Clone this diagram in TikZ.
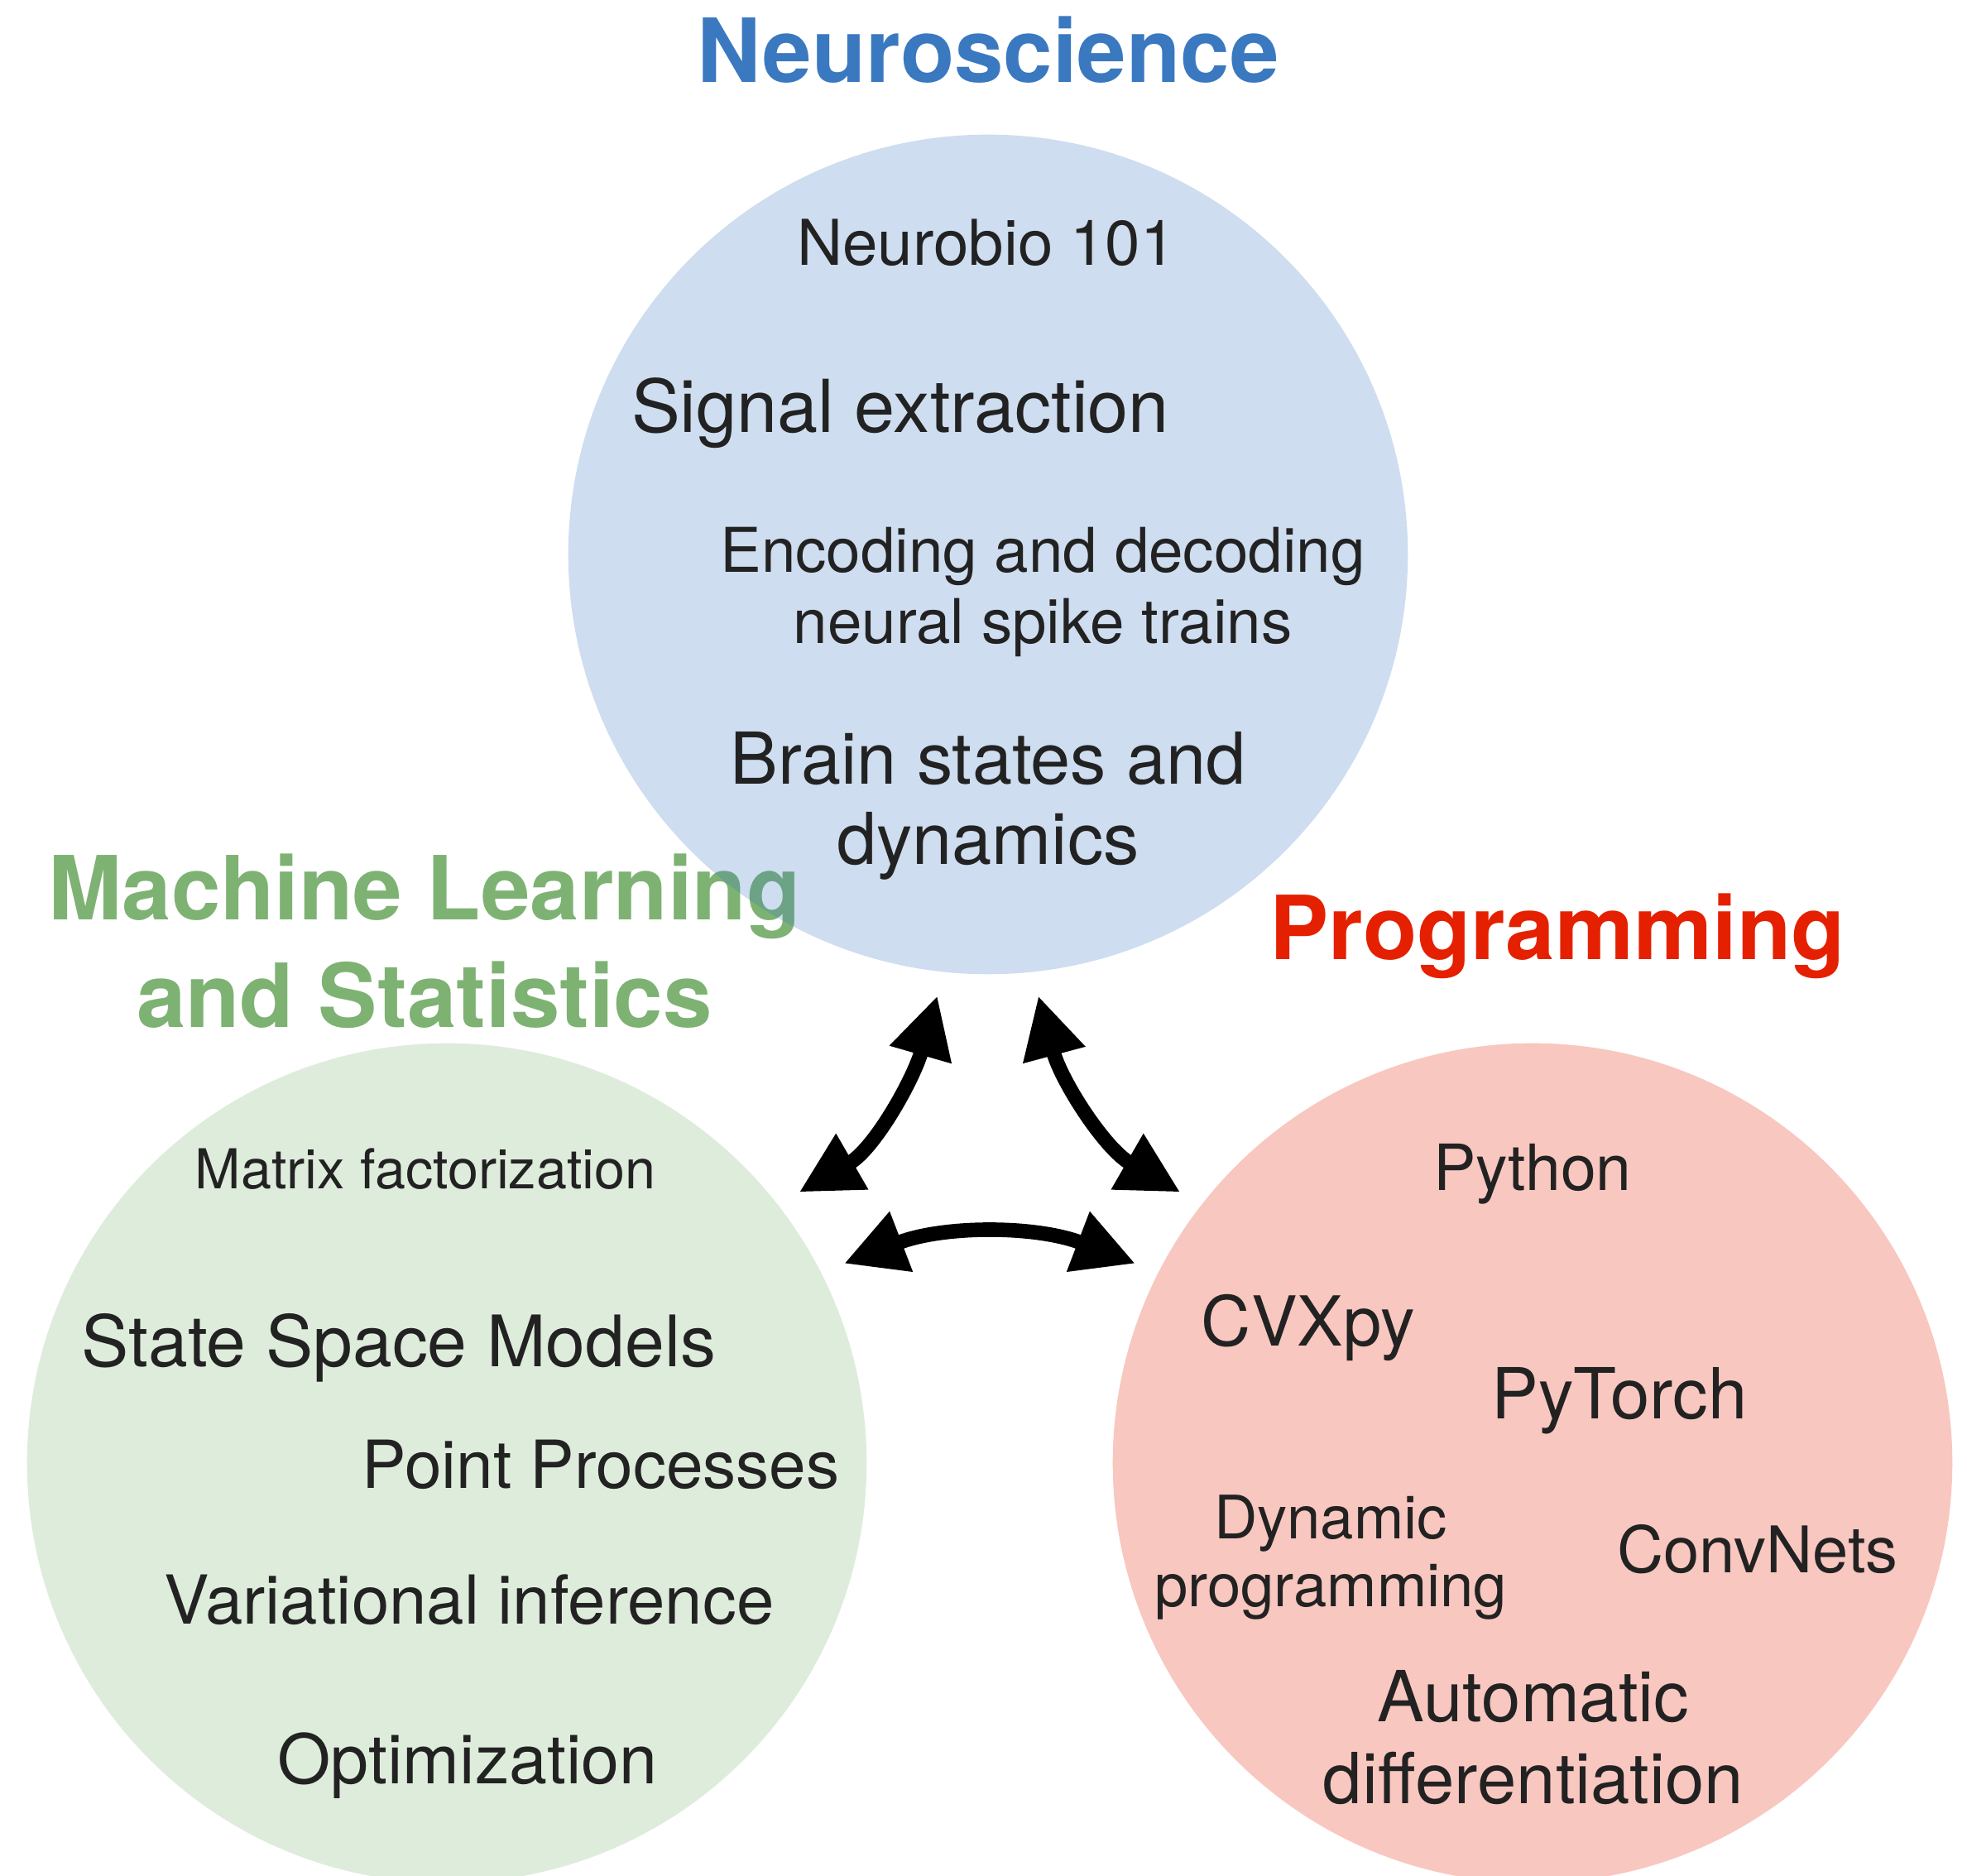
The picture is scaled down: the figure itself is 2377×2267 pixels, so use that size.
\documentclass[tikz,border=0pt]{standalone}
\usepackage{fontspec}
\setmainfont{TeX Gyre Heros}
\usetikzlibrary{arrows.meta}
\definecolor{neuroblue}{RGB}{58,120,192}
\definecolor{mlgreen}{RGB}{125,178,115}
\definecolor{progred}{RGB}{229,32,0}
\definecolor{itemgray}{RGB}{34,34,34}
\begin{document}
\begin{tikzpicture}[x=0.01cm, y=0.01cm,
    title/.style={font=\bfseries\fontsize{30.4}{37}\selectfont, align=center, inner sep=0pt},
    item/.style={text=itemgray, align=center, inner sep=0pt},
    area/.style={circle, minimum size=10.14cm, inner sep=0pt, outer sep=0pt, fill opacity=0.25},
    link/.style={line width=5pt, {Triangle[length=7.4mm,width=7.3mm]}-{Triangle[length=7.4mm,width=7.3mm]},
      shorten <=3mm, shorten >=3mm}]
  \useasboundingbox (0,0) rectangle (2377,2267);
  % field titles (under the discs)
  \node[title, text=neuroblue, anchor=base] (tneuro) at (1194,2167) {Neuroscience};
  \node[title, text=mlgreen, anchor=north] (tml) at (513,1236) {Machine Learning\\and Statistics};
  \node[title, text=progred, anchor=base] (tprog) at (1882,1107) {Programming};
  % three discs
  \node[area, fill=neuroblue] (neuro) at (1194,1597) {};
  \node[area, fill=mlgreen] (ml) at (540,499) {};
  \node[area, fill=progred] (prog) at (1852,499) {};
  % neuroscience topics
  \node[item, anchor=base, font=\fontsize{21.7}{25}\selectfont] (nbio) at (1192,1946) {Neurobio 101};
  \node[item, anchor=base, font=\fontsize{25.1}{29}\selectfont] (nsig) at (1088,1744) {Signal extraction};
  \node[item, anchor=north, font=\fontsize{21.2}{24.5}\selectfont] (nenc) at (1260,1631) {Encoding and decoding\\neural spike trains};
  \node[item, anchor=north, font=\fontsize{24.6}{27.6}\selectfont] (nbrain) at (1194,1383) {Brain states and\\dynamics};
  % machine learning topics
  \node[item, anchor=base, font=\fontsize{18.9}{22}\selectfont] (mmat) at (514,830) {Matrix factorization};
  \node[item, anchor=base, font=\fontsize{24.4}{28}\selectfont] (mssm) at (482,615) {State Space Models};
  \node[item, anchor=base, font=\fontsize{22.8}{26}\selectfont] (mpp) at (726,468) {Point Processes};
  \node[item, anchor=base, font=\fontsize{23.2}{27}\selectfont] (mvi) at (567,304) {Variational inference};
  \node[item, anchor=base, font=\fontsize{23.5}{27}\selectfont] (mopt) at (565,111) {Optimization};
  % programming topics
  \node[item, anchor=base, font=\fontsize{21.9}{25}\selectfont] (ppy) at (1852,828) {Python};
  \node[item, anchor=base, font=\fontsize{23.7}{27}\selectfont] (pcvx) at (1581,640) {CVXpy};
  \node[item, anchor=base, font=\fontsize{24.2}{28}\selectfont] (ptorch) at (1957,552) {PyTorch};
  \node[item, anchor=north, font=\fontsize{20.6}{23.3}\selectfont] (pdyn) at (1608,461) {Dynamic\\programming};
  \node[item, anchor=base, font=\fontsize{22.1}{25}\selectfont] (pconv) at (2124,366) {ConvNets};
  \node[item, anchor=north, font=\fontsize{24.2}{28}\selectfont] (pauto) at (1853,249) {Automatic\\differentiation};
  % links between the fields
  \draw[link] (neuro.264) to[out=254, in=30] (ml.38);
  \draw[link] (neuro.276) to[out=285, in=150] (prog.142);
  \draw[link] (ml.27) to[out=21, in=159] (prog.153);
\end{tikzpicture}
\end{document}
